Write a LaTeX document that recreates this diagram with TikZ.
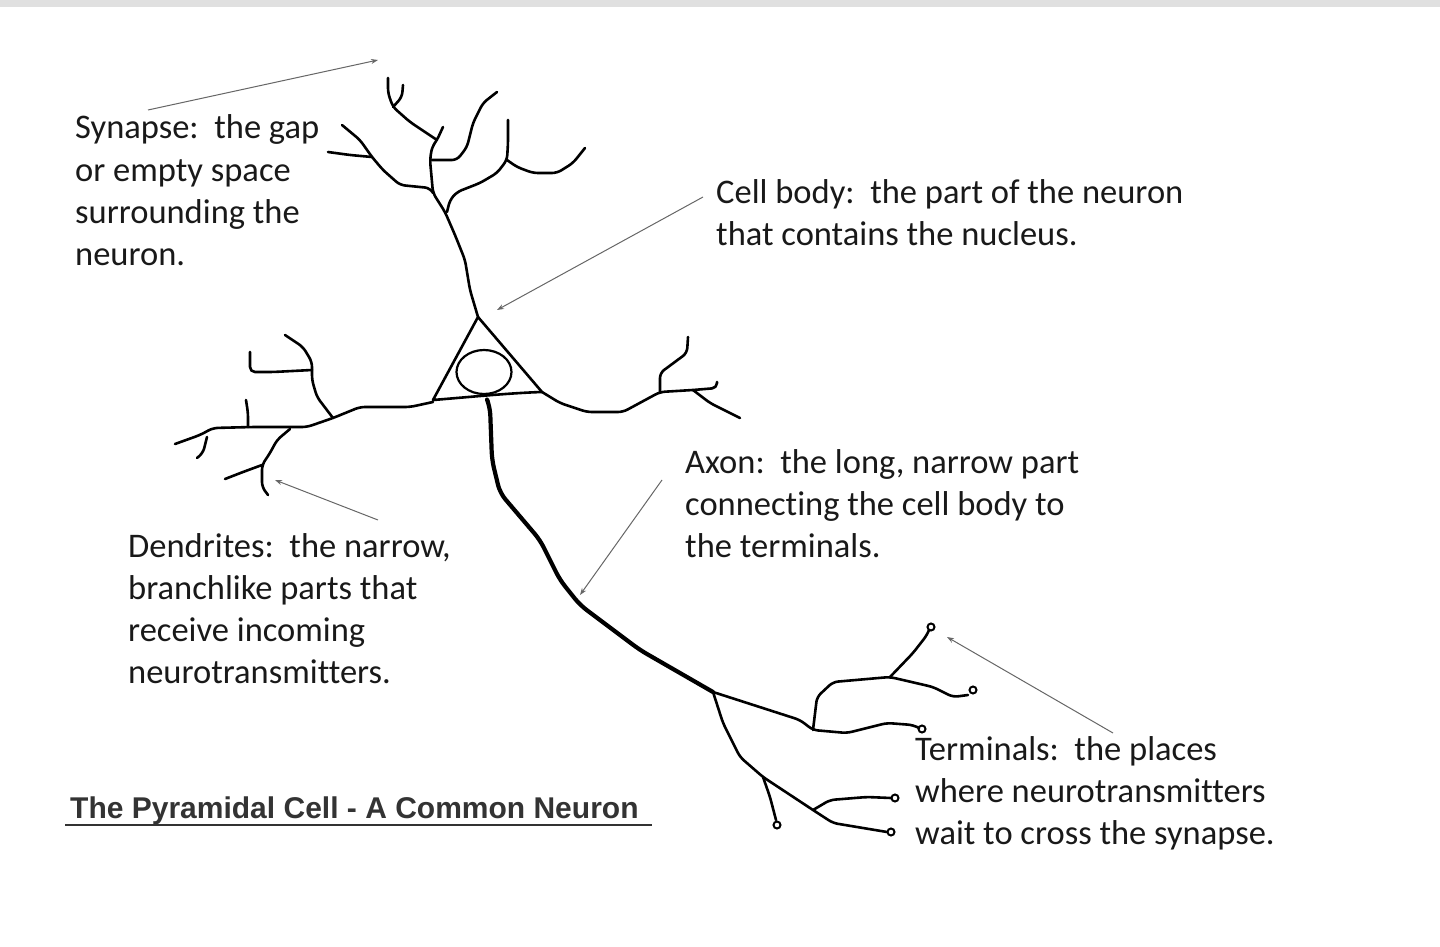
\documentclass[tikz,border=0pt]{standalone}
\usepackage{fontspec}
\setmainfont{Carlito}[Ligatures=NoCommon]
\newfontfamily\titlefont{Liberation Sans}
\usetikzlibrary{shapes.geometric,arrows.meta}
\begin{document}
\begin{tikzpicture}[x=1pt,y=-1pt,
  den/.style={line width=2.6pt,line cap=round,line join=round,rounded corners=5pt},
  axn/.style={line width=4.2pt,line cap=round,line join=round,rounded corners=8pt},
  lbl/.style={anchor=base west,inner sep=0pt,font=\fontsize{34.5}{42}\selectfont,text=black!90},
  ptr/.style={draw=black!60,line width=1pt,-{Stealth[length=7pt,width=5pt]}},
  bouton/.style={circle,draw,line width=2pt,minimum size=7pt,inner sep=0pt}]
\useasboundingbox (0,0) rectangle (1440,947);
\fill[black!12] (0,0) rectangle (1440,7);
% cell body
\draw[den,rounded corners=0pt] (478,317) -- (433,400) .. controls (470,397) and (510,393) .. (542,392) -- cycle;
\node[ellipse,draw,line width=2.2pt,minimum width=55pt,minimum height=44pt,inner sep=0pt] (nuc) at (484,372) {};
\draw[den] (478,317) -- (470,290) -- (465,260) -- (455,235) -- (445,212) -- (433,193) -- (430,160) -- (432,147) -- (437,140) -- (443,127);
\draw[den] (433,193) -- (430,188) -- (400,185) -- (383,170) -- (372,157) -- (360,140) -- (342,125);
\draw[den] (372,157) -- (350,155) -- (328,152);
\draw[den] (437,140) -- (410,122) -- (393,107) -- (388,93) -- (388,78);
\draw[den] (393,107) -- (402,97) -- (403,85);
\draw[den] (432,160) -- (457,160) -- (467,147) -- (473,123) -- (483,103) -- (497,92);
\draw[den] (447,212) -- (450,200) -- (457,192) -- (480,183) -- (497,173) -- (507,160) -- (508,143) -- (508,120);
\draw[den] (507,160) -- (517,167) -- (533,173) -- (557,173) -- (573,163) -- (585,148);
% right basal
\draw[den] (542,392) -- (560,403) -- (587,412) -- (623,412) -- (660,392) -- (693,390) -- (717,388) -- (717,382);
\draw[den] (660,392) -- (660,373) -- (687,353) -- (688,337);
\draw[den] (693,390) -- (710,403) -- (740,418);
% left basal
\draw[den] (433,402) -- (410,407) -- (360,407) -- (333,418) -- (307,427) -- (253,427) -- (213,428) -- (200,435) -- (175,444);
\draw[den] (207,437) -- (203,453) -- (197,458);
\draw[den] (248,427) -- (248,413) -- (246,400);
\draw[den] (333,418) -- (317,397) -- (312,380) -- (312,362) -- (303,347) -- (285,335);
\draw[den] (312,370) -- (273,372) -- (250,372) -- (250,352);
\draw[den] (290,429) -- (277,440) -- (270,453) -- (262,465) -- (262,487) -- (268,495);
\draw[den] (262,465) -- (243,472) -- (225,479);
% axon
\draw[axn] (488,402) -- (490,407) -- (492,460) -- (500,493) -- (540,540) -- (560,580) -- (580,605) -- (640,650) -- (713,692);
\draw[den] (713,692) -- (800,720) -- (813,730) -- (847,733) -- (887,723) -- (913,725) -- (919,728);
\draw[den] (813,730) -- (817,697) -- (833,682) -- (890,677) -- (933,687) -- (953,697) -- (968,695);
\draw[den] (890,677) -- (913,653) -- (927,635) -- (929,630);
\draw[den] (713,692) -- (723,723) -- (740,757) -- (763,777) -- (813,810) -- (833,823) -- (887,832);
\draw[den] (813,810) -- (830,800) -- (867,797) -- (891,798);
\draw[den] (763,777) -- (770,797) -- (776,820);
\node[bouton] (b1) at (922,729) {};
\node[bouton] (b2) at (973,690) {};
\node[bouton] (b3) at (931,627) {};
\node[bouton] (b4) at (895,798) {};
\node[bouton] (b5) at (891,832) {};
\node[bouton] (b6) at (777,825) {};
% labels
\node[lbl] (s1) at (75,139) {Synapse:\ \ the gap};
\node[lbl] (s2) at (75,181) {or empty space};
\node[lbl] (s3) at (75,223) {surrounding the};
\node[lbl] (s4) at (75,265) {neuron.};
\node[lbl] (c1) at (716,203) {Cell body:\ \ the part of the neuron};
\node[lbl] (c2) at (716,245) {that contains the nucleus.};
\node[lbl] (a1) at (685,473) {Axon:\ \ the long, narrow part};
\node[lbl] (a2) at (685,515) {connecting the cell body to};
\node[lbl] (a3) at (685,557) {the terminals.};
\node[lbl] (d1) at (128,557) {Dendrites:\ \ the narrow,};
\node[lbl] (d2) at (128,599) {branchlike parts that};
\node[lbl] (d3) at (128,641) {receive incoming};
\node[lbl] (d4) at (128,683) {neurotransmitters.};
\node[lbl] (t1) at (915,760) {Terminals:\ \ the places};
\node[lbl] (t2) at (915,802) {where neurotransmitters};
\node[lbl] (t3) at (915,844) {wait to cross the synapse.};
\node[anchor=base west,inner sep=0pt,font=\titlefont\bfseries\fontsize{30}{32}\selectfont,text=black!80] (title) at (70,818) {The Pyramidal Cell - A Common Neuron};
\draw[line width=2pt,black!80] (65,825) -- (652,825);
% pointers
\coordinate (ps) at (378,60);
\coordinate (pc) at (497,310);
\coordinate (pd) at (275,480);
\coordinate (pa) at (580,595);
\coordinate (pt) at (947,637);
\draw[ptr] (148,110) -- (ps);
\draw[ptr] (703,197) -- (pc);
\draw[ptr] (378,520) -- (pd);
\draw[ptr] (662,480) -- (pa);
\draw[ptr] (1113,733) -- (pt);
\end{tikzpicture}
\end{document}
